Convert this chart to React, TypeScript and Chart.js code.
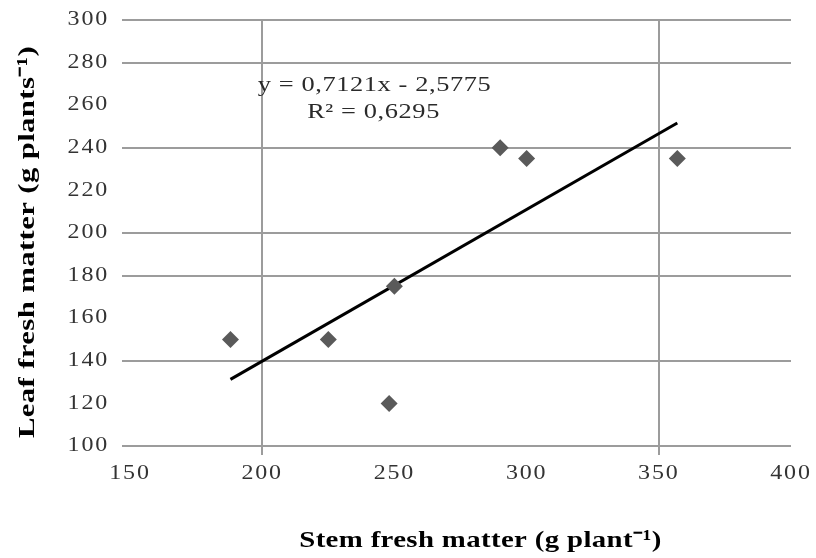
import React, { useEffect, useRef } from "react";
import { Chart, registerables } from "chart.js";

Chart.register(...registerables);

// ---- data ----
const stemFresh = [188, 225, 248, 250, 290, 300, 357];
const leafFresh = [150, 150, 120, 175, 240, 235, 235];
const trendSlope = 0.7121;
const trendIntercept = -2.5775;
const xTickValues = [150, 200, 250, 300, 350, 400];
const yTickValues = [100, 120, 140, 160, 180, 200, 220, 240, 260, 280, 300];
const xGridShown = [200, 350];
const yGridShown = [100, 140, 180, 200, 240, 280, 300];
const equationText = ["y = 0,7121x - 2,5775", "R² = 0,6295"];
const xTitle = "Stem fresh matter (g plant⁻¹)";
const yTitle = "Leaf fresh matter (g plants⁻¹)";

const SERIF = '"Liberation Serif", "Times New Roman", serif';
const GRID = "#9c9c9c";

export default function App() {
  const ref = useRef<HTMLCanvasElement | null>(null);

  useEffect(() => {
    const canvas = ref.current;
    if (!canvas) return;
    const c2d = canvas.getContext("2d") as any;
    const origFill = c2d.fillText.bind(c2d);
    // text in the source image is horizontally wide; emulate by stretching glyphs
    const TICK_STRETCH = 1.2;
    const TICK_SPACING = "1.5px";
    let stretch = TICK_STRETCH;
    let spacing = TICK_SPACING;
    c2d.fillText = (...args: any[]) => {
      c2d.save();
      c2d.letterSpacing = spacing;
      c2d.translate(args[1], args[2]);
      c2d.scale(stretch, 1);
      origFill(args[0], 0, 0);
      c2d.restore();
    };

    const points = stemFresh.map((x, i) => ({ x, y: leafFresh[i] }));
    const xMin = Math.min(...stemFresh);
    const xMax = Math.max(...stemFresh);
    const trend = [xMin, xMax].map((x) => ({ x, y: trendSlope * x + trendIntercept }));

    const textPlugin = {
      id: "texts",
      afterDraw(chart: any) {
        const { ctx, scales, chartArea } = chart;
        ctx.save();
        // regression equation
        stretch = 1.2;
        spacing = "0.5px";
        ctx.font = `22px ${SERIF}`;
        ctx.fillStyle = "#2a2a2a";
        ctx.textAlign = "left";
        ctx.textBaseline = "middle";
        ctx.fillText(equationText[0], scales.x.getPixelForValue(198.3), scales.y.getPixelForValue(269.5));
        ctx.fillText(equationText[1], scales.x.getPixelForValue(217), scales.y.getPixelForValue(256.5));
        // axis titles
        ctx.fillStyle = "#000000";
        ctx.font = `bold 24px ${SERIF}`;
        ctx.textAlign = "center";
        stretch = 1.2;
        spacing = "0.3px";
        const cx = (chartArea.left + chartArea.right) / 2 + 20;
        ctx.fillText(xTitle, cx, 541);
        stretch = 1.28;
        ctx.translate(28, (chartArea.top + chartArea.bottom) / 2 + 9);
        ctx.rotate(-Math.PI / 2);
        ctx.fillText(yTitle, 0, 0);
        ctx.restore();
        stretch = TICK_STRETCH;
        spacing = TICK_SPACING;
      },
    };

    const chart = new Chart(canvas, {
      type: "scatter",
      data: {
        datasets: [
          {
            label: "data",
            data: points,
            pointStyle: "rectRot",
            pointRadius: 8.5,
            pointHoverRadius: 8.5,
            backgroundColor: "#5a5a5a",
            borderColor: "#5a5a5a",
            borderWidth: 0,
          },
          {
            label: "trend",
            type: "line",
            data: trend,
            showLine: true,
            borderColor: "#000000",
            borderWidth: 3,
            pointRadius: 0,
            fill: false,
          } as any,
        ],
      },
      options: {
        responsive: false,
        animation: false,
        devicePixelRatio: 1,
        layout: { padding: { top: 20, right: 25, left: 0, bottom: 0 } },
        plugins: {
          legend: { display: false },
          tooltip: { enabled: false },
        },
        scales: {
          x: {
            type: "linear",
            min: 150,
            max: 400,
            afterBuildTicks: (s: any) => {
              s.ticks = xTickValues.map((v) => ({ value: v }));
            },
            afterFit: (s: any) => {
              s.height = 112;
            },
            border: { display: false },
            grid: {
              color: (c: any) => (c.tick && xGridShown.includes(c.tick.value) ? GRID : "rgba(0,0,0,0)"),
              lineWidth: 2,
              drawTicks: true,
              tickLength: 9,
            },
            ticks: {
              padding: 7,
              color: "#333333",
              font: { family: SERIF, size: 20 },
              maxRotation: 0,
            },
            title: { display: false },
          },
          y: {
            type: "linear",
            min: 100,
            max: 300,
            afterBuildTicks: (s: any) => {
              s.ticks = yTickValues.map((v) => ({ value: v }));
            },
            afterFit: (s: any) => {
              s.width = 130;
              s.paddingTop = 0;
              s.paddingBottom = 0;
            },
            border: { display: false },
            grid: {
              color: (c: any) => (c.tick && yGridShown.includes(c.tick.value) ? GRID : "rgba(0,0,0,0)"),
              lineWidth: 2,
              drawTicks: true,
              tickLength: 8,
            },
            ticks: {
              padding: 13,
              color: "#333333",
              font: { family: SERIF, size: 20 },
            },
            title: { display: false },
          },
        },
      },
      plugins: [textPlugin],
    });
    return () => {
      chart.destroy();
      c2d.fillText = origFill;
    };
  }, []);

  return (
    <div style={{ position: "fixed", left: 0, top: 0, width: 816, height: 558, background: "#fff" }}>
      <canvas ref={ref} width={816} height={558} />
    </div>
  );
}
